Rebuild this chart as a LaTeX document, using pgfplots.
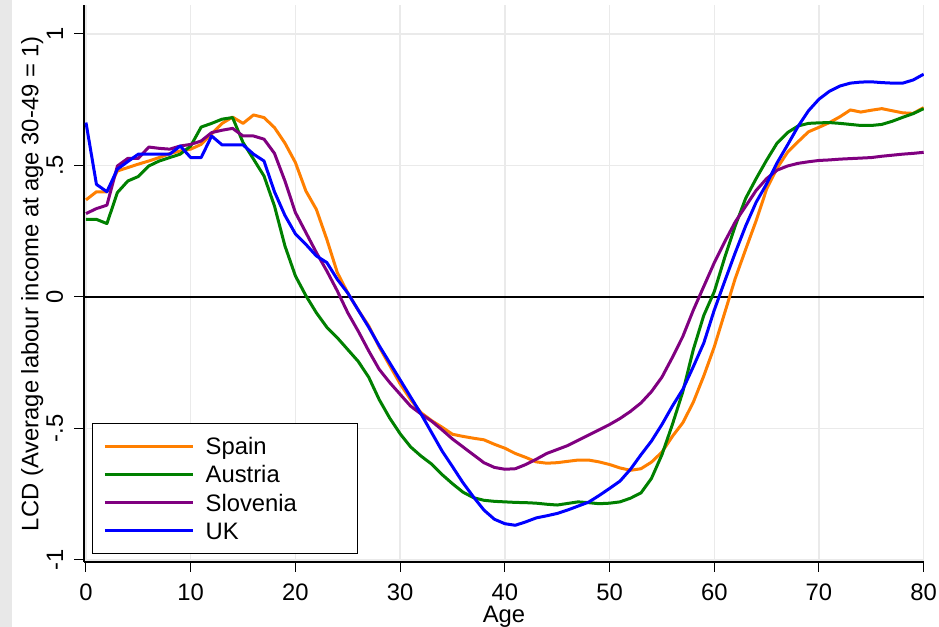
\documentclass[border=0pt]{standalone}
\usepackage{pgfplots}
\pgfplotsset{compat=1.18}
\usepackage{pgfplotstable}
\usepackage{fontspec}
\setmainfont{Liberation Sans}
\definecolor{cES}{RGB}{255,127,0}
\definecolor{cAT}{RGB}{0,128,0}
\definecolor{cSI}{RGB}{128,0,128}
\definecolor{cUK}{RGB}{0,0,255}
\definecolor{gridc}{RGB}{234,234,234}
\definecolor{stripc}{RGB}{232,232,232}
\newcommand{\fs}{\fontsize{11.9}{14}\selectfont}

\pgfplotstableread{
age spain austria slovenia uk
0 0.369 0.295 0.317 0.663
1 0.400 0.295 0.336 0.428
2 0.400 0.279 0.349 0.400
3 0.479 0.397 0.498 0.486
4 0.492 0.441 0.527 0.515
5 0.505 0.458 0.527 0.543
6 0.517 0.498 0.570 0.543
7 0.530 0.517 0.565 0.543
8 0.545 0.530 0.562 0.543
9 0.555 0.543 0.574 0.574
10 0.562 0.574 0.580 0.530
11 0.580 0.646 0.593 0.530
12 0.620 0.660 0.625 0.612
13 0.660 0.676 0.634 0.578
14 0.684 0.682 0.641 0.578
15 0.660 0.587 0.612 0.578
16 0.692 0.524 0.612 0.543
17 0.682 0.460 0.600 0.517
18 0.644 0.346 0.546 0.400
19 0.585 0.194 0.441 0.310
20 0.511 0.080 0.321 0.240
21 0.403 0.005 0.245 0.200
22 0.333 -0.060 0.169 0.156
23 0.219 -0.115 0.099 0.131
24 0.093 -0.155 0.023 0.067
25 0.015 -0.200 -0.060 0.015
26 -0.050 -0.245 -0.130 -0.050
27 -0.110 -0.305 -0.205 -0.115
28 -0.190 -0.390 -0.275 -0.185
29 -0.260 -0.460 -0.325 -0.250
30 -0.330 -0.520 -0.370 -0.315
31 -0.390 -0.570 -0.415 -0.380
32 -0.440 -0.605 -0.445 -0.445
33 -0.470 -0.635 -0.472 -0.515
34 -0.495 -0.675 -0.505 -0.585
35 -0.522 -0.710 -0.540 -0.645
36 -0.530 -0.742 -0.570 -0.706
37 -0.537 -0.763 -0.600 -0.760
38 -0.543 -0.773 -0.630 -0.810
39 -0.560 -0.777 -0.648 -0.845
40 -0.575 -0.779 -0.655 -0.862
41 -0.595 -0.781 -0.653 -0.868
42 -0.610 -0.782 -0.637 -0.855
43 -0.627 -0.784 -0.617 -0.840
44 -0.632 -0.788 -0.595 -0.832
45 -0.630 -0.791 -0.580 -0.823
46 -0.625 -0.785 -0.565 -0.810
47 -0.620 -0.779 -0.545 -0.795
48 -0.620 -0.782 -0.525 -0.780
49 -0.627 -0.786 -0.505 -0.755
50 -0.637 -0.784 -0.485 -0.728
51 -0.650 -0.779 -0.462 -0.700
52 -0.659 -0.765 -0.435 -0.655
53 -0.653 -0.745 -0.403 -0.600
54 -0.628 -0.690 -0.360 -0.548
55 -0.590 -0.600 -0.305 -0.485
56 -0.530 -0.485 -0.230 -0.415
57 -0.478 -0.360 -0.150 -0.351
58 -0.400 -0.200 -0.050 -0.265
59 -0.300 -0.070 0.040 -0.175
60 -0.190 0.020 0.130 -0.050
61 -0.060 0.150 0.210 0.060
62 0.070 0.270 0.285 0.168
63 0.181 0.375 0.345 0.270
64 0.290 0.450 0.405 0.360
65 0.410 0.520 0.450 0.430
66 0.490 0.585 0.482 0.510
67 0.550 0.625 0.498 0.578
68 0.590 0.650 0.508 0.648
69 0.628 0.660 0.514 0.708
70 0.645 0.662 0.519 0.752
71 0.663 0.663 0.521 0.782
72 0.685 0.660 0.524 0.802
73 0.711 0.656 0.526 0.813
74 0.703 0.652 0.528 0.817
75 0.710 0.652 0.530 0.818
76 0.716 0.656 0.535 0.815
77 0.708 0.668 0.539 0.813
78 0.700 0.683 0.543 0.813
79 0.698 0.697 0.546 0.825
80 0.720 0.716 0.550 0.847
}\lcd

\begin{document}
\fs
\begin{tikzpicture}
\fill[stripc] (-42pt,-32.5pt) rectangle (-36pt,281pt);
\begin{axis}[
  at={(0,0)}, anchor=south west,
  scale only axis, width=420pt, height=278.5pt,
  xmin=-0.19, xmax=80.03, ymin=-1.0076, ymax=1.110,
  axis lines*=left,
  axis line style={black, line width=0.7pt},
  xtick={0,10,20,30,40,50,60,70,80},
  xticklabels={0,10,20,30,40,50,60,70,80},
  ytick={-1,-0.5,0,0.5,1},
  yticklabels={-1,-.5,0,.5,1},
  /pgf/number format/assume math mode=true,
  tick align=outside,
  major tick length=4.8pt,
  tick style={black, line width=0.5pt},
  grid=major,
  major grid style={color=gridc, line width=0.75pt},
  xticklabel style={font=\fs, anchor=north, inner sep=0pt},
  xticklabel shift=5.9pt,
  yticklabel style={font=\fs, rotate=90, anchor=south, inner sep=0pt},
  yticklabel shift=5.4pt,
  xlabel={Age},
  ylabel={LCD (Average labour income at age 30-49 = 1)},
  xlabel style={font=\fs, at={(axis description cs:0.5,-0.1090)}, anchor=base, inner sep=0pt},
  ylabel style={font=\fs, at={(axis description cs:-0.0544,0.5)}, anchor=base, inner sep=0pt},
  legend style={at={(axis description cs:0.009524,0.0150)}, anchor=south west,
    draw=black, line width=0.5pt, fill=white, font=\fs,
    inner xsep=5.5pt, inner ysep=6.9pt, row sep=5.5pt,
    nodes={inner sep=0pt, text height=8.6pt, text depth=0pt, text width=75.8pt, align=left}},
  legend cell align=left,
  legend image code/.code={\draw[#1] (0pt,0pt) -- (44pt,0pt);},
  every axis plot/.append style={line width=1.5pt, line join=round},
]
\addplot[black, line width=1pt, forget plot] coordinates {(-0.19,0) (80.03,0)};
\addplot[cES] table[x=age, y=spain] {\lcd};
\addlegendentry{\hspace{5.6pt}Spain}
\addplot[cAT] table[x=age, y=austria] {\lcd};
\addlegendentry{\hspace{5.6pt}Austria}
\addplot[cSI] table[x=age, y=slovenia] {\lcd};
\addlegendentry{\hspace{5.6pt}Slovenia}
\addplot[cUK] table[x=age, y=uk] {\lcd};
\addlegendentry{\hspace{5.6pt}UK}
\end{axis}
\pgfresetboundingbox
\path[use as bounding box] (-42pt,-32.5pt) rectangle (427.5pt,281pt);
\end{tikzpicture}
\end{document}
